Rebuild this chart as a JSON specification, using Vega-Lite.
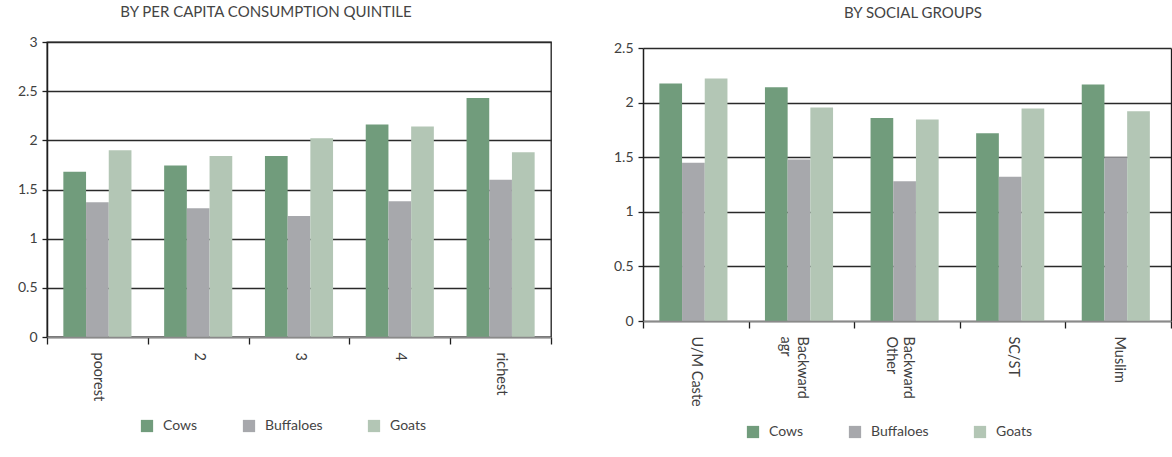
{
  "$schema": "https://vega.github.io/schema/vega-lite/v6.json",
  "background": "white",
  "padding": {"left": 16, "top": 4, "right": 0, "bottom": 0},
  "spacing": 60,
  "config": {
    "font": "Lato",
    "view": {"stroke": "#1e1e1e", "strokeWidth": 1.3},
    "axis": {
      "labelFont": "Lato",
      "labelFontSize": 14,
      "labelColor": "#404040",
      "domainColor": "#1e1e1e",
      "domainWidth": 1.5,
      "tickColor": "#1e1e1e",
      "tickWidth": 1.3,
      "title": null
    },
    "title": {"font": "Lato", "fontSize": 15, "fontWeight": "normal", "color": "#444444"},
    "legend": {
      "labelFont": "Lato",
      "labelFontSize": 14,
      "labelColor": "#444444",
      "symbolType": "square",
      "symbolSize": 150,
      "symbolStrokeWidth": 0,
      "labelOffset": 9,
      "title": null,
      "orient": "none",
      "direction": "horizontal",
      "columns": 3,
      "columnPadding": 44
    }
  },
  "datasets": {
    "quintile": [
      {"group": "poorest", "animal": "Cows", "value": 1.68},
      {"group": "poorest", "animal": "Buffaloes", "value": 1.37},
      {"group": "poorest", "animal": "Goats", "value": 1.9},
      {"group": "2", "animal": "Cows", "value": 1.745},
      {"group": "2", "animal": "Buffaloes", "value": 1.31},
      {"group": "2", "animal": "Goats", "value": 1.84},
      {"group": "3", "animal": "Cows", "value": 1.84},
      {"group": "3", "animal": "Buffaloes", "value": 1.23},
      {"group": "3", "animal": "Goats", "value": 2.02},
      {"group": "4", "animal": "Cows", "value": 2.16},
      {"group": "4", "animal": "Buffaloes", "value": 1.38},
      {"group": "4", "animal": "Goats", "value": 2.14},
      {"group": "richest", "animal": "Cows", "value": 2.43},
      {"group": "richest", "animal": "Buffaloes", "value": 1.6},
      {"group": "richest", "animal": "Goats", "value": 1.88}
    ],
    "social": [
      {"group": "U/M Caste", "animal": "Cows", "value": 2.175},
      {"group": "U/M Caste", "animal": "Buffaloes", "value": 1.45},
      {"group": "U/M Caste", "animal": "Goats", "value": 2.22},
      {"group": "Backward agr", "animal": "Cows", "value": 2.14},
      {"group": "Backward agr", "animal": "Buffaloes", "value": 1.48},
      {"group": "Backward agr", "animal": "Goats", "value": 1.955},
      {"group": "Backward Other", "animal": "Cows", "value": 1.86},
      {"group": "Backward Other", "animal": "Buffaloes", "value": 1.28},
      {"group": "Backward Other", "animal": "Goats", "value": 1.845},
      {"group": "SC/ST", "animal": "Cows", "value": 1.72},
      {"group": "SC/ST", "animal": "Buffaloes", "value": 1.32},
      {"group": "SC/ST", "animal": "Goats", "value": 1.945},
      {"group": "Muslim", "animal": "Cows", "value": 2.165},
      {"group": "Muslim", "animal": "Buffaloes", "value": 1.5},
      {"group": "Muslim", "animal": "Goats", "value": 1.92}
    ]
  },
  "resolve": {"legend": {"color": "independent"}, "scale": {"color": "independent"}},
  "hconcat": [
    {
      "title": {"text": "BY PER CAPITA CONSUMPTION QUINTILE", "offset": 15, "dx": -33},
      "width": 504,
      "height": 295,
      "data": {"name": "quintile"},
      "mark": {"type": "bar"},
      "encoding": {
        "x": {
          "field": "group",
          "type": "nominal",
          "sort": ["poorest", "2", "3", "4", "richest"],
          "scale": {"paddingInner": 0, "paddingOuter": 0},
          "axis": {"labelAngle": 90, "labelFontSize": 14.5, "tickBand": "extent", "tickSize": 7, "labelPadding": 8, "domainColor": "#8a8a8a", "zindex": 1}
        },
        "xOffset": {
          "field": "animal",
          "sort": ["Cows", "Buffaloes", "Goats"],
          "scale": {"paddingInner": 0, "paddingOuter": 0.72}
        },
        "y": {
          "field": "value",
          "type": "quantitative",
          "scale": {"domain": [0, 3], "nice": false},
          "axis": {
            "values": [0, 0.5, 1, 1.5, 2, 2.5, 3],
            "format": "~g",
            "grid": true,
            "gridColor": "#2a2a2a",
            "gridWidth": 1.3,
            "tickSize": 5,
            "labelPadding": 5
          }
        },
        "color": {
          "field": "animal",
          "type": "nominal",
          "sort": ["Cows", "Buffaloes", "Goats"],
          "scale": {"domain": ["Cows", "Buffaloes", "Goats"], "range": ["#719c7c", "#a7a8ac", "#b3c6b5"]},
          "legend": {"legendX": 93, "legendY": 377}
        }
      }
    },
    {
      "title": {"text": "BY SOCIAL GROUPS", "offset": 20, "dx": 6},
      "width": 528,
      "height": 279,
      "view": {"stroke": null},
      "data": {"name": "social"},
      "encoding": {
        "x": {
          "field": "group",
          "type": "nominal",
          "sort": ["U/M Caste", "Backward agr", "Backward Other", "SC/ST", "Muslim"],
          "scale": {"paddingInner": 0, "paddingOuter": 0},
          "axis": {
            "labelAngle": 90,
            "labelFontSize": 14.5,
            "tickBand": "extent",
            "tickSize": 7,
            "labelPadding": 8,
            "domainColor": "#8a8a8a",
            "zindex": 1,
            "labelExpr": "indexof(datum.label, 'Backward') == 0 ? split(datum.label, ' ') : datum.label"
          }
        },
        "xOffset": {
          "field": "animal",
          "sort": ["Cows", "Buffaloes", "Goats"],
          "scale": {"paddingInner": 0, "paddingOuter": 0.75}
        }
      },
      "layer": [
        {
          "mark": {"type": "bar"},
          "encoding": {
            "y": {
              "field": "value",
              "type": "quantitative",
              "scale": {"domain": [0, 2.5], "nice": false, "range": [279, 6]},
              "axis": {
                "orient": "left",
                "values": [0, 0.5, 1, 1.5, 2, 2.5],
                "format": "~g",
                "grid": true,
                "gridColor": "#2a2a2a",
                "gridWidth": 1.3,
                "tickSize": 5,
                "labelPadding": 5
              }
            },
            "color": {
              "field": "animal",
              "type": "nominal",
              "sort": ["Cows", "Buffaloes", "Goats"],
              "scale": {"domain": ["Cows", "Buffaloes", "Goats"], "range": ["#719c7c", "#a7a8ac", "#b3c6b5"]},
              "legend": {"legendX": 103, "legendY": 383}
            }
          }
        },
        {
          "mark": {"type": "bar", "opacity": 0},
          "encoding": {
            "y": {
              "field": "value",
              "type": "quantitative",
              "scale": {"domain": [0, 2.5], "nice": false, "range": [279, 6]},
              "axis": {
                "orient": "right",
                "labels": false,
                "ticks": false,
                "grid": false,
                "domain": true,
                "domainWidth": 1.3
              }
            }
          }
        }
      ],
      "resolve": {"axis": {"y": "independent"}}
    }
  ]
}
